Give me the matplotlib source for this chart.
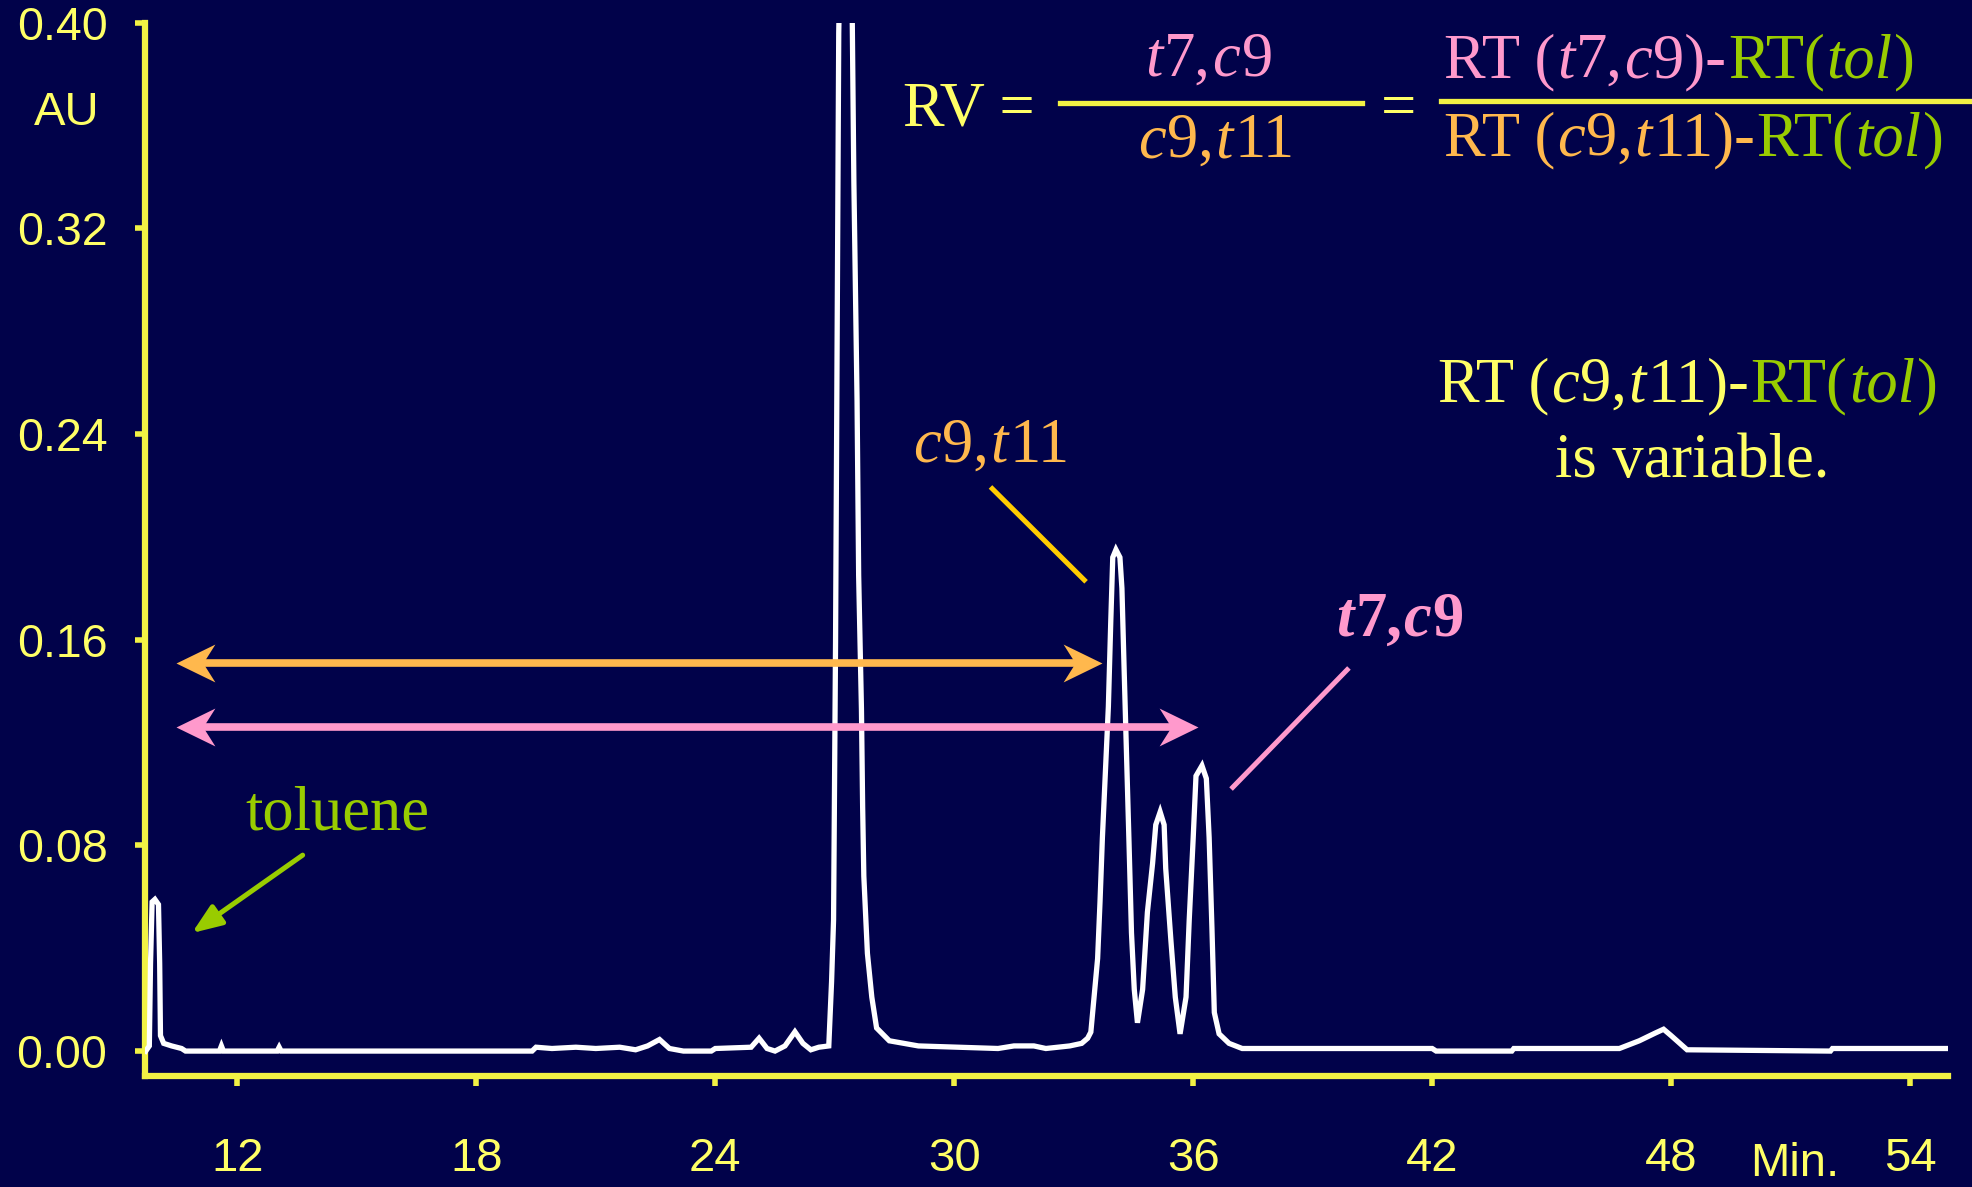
import matplotlib
matplotlib.use('Agg')
import matplotlib.pyplot as plt
from matplotlib.path import Path
from matplotlib import font_manager

# chromatogram trace (time in min, absorbance in AU)
time_min = [9.70, 9.79, 9.82, 9.86, 9.93, 10.02, 10.05, 10.07, 10.15, 10.35, 10.60, 10.70,
            11.55, 11.60, 11.65, 13.00, 13.05, 13.10, 19.40, 19.50, 19.90, 20.50, 21.00,
            21.60, 22.00, 22.30, 22.60, 22.85, 23.20, 23.90, 24.00, 24.90, 25.10, 25.30,
            25.50, 25.75, 26.00, 26.20, 26.40, 26.60, 26.85,
            26.92, 26.97, 27.02, 27.10, 27.27, 27.44, 27.48, 27.56, 27.60, 27.67, 27.70,
            27.73, 27.82, 27.93, 28.05, 28.37, 29.10,
            31.10, 31.50, 32.00, 32.30, 32.90, 33.20, 33.35,
            33.43, 33.60, 33.66, 33.72, 33.87, 33.93, 33.98, 34.06, 34.16, 34.21, 34.27,
            34.39, 34.45, 34.52, 34.60, 34.73, 34.85, 34.98, 35.06, 35.17, 35.27, 35.31,
            35.44, 35.55, 35.67, 35.82, 35.90, 36.00, 36.07, 36.22, 36.33, 36.40, 36.47,
            36.53, 36.65, 36.90, 37.23,
            42.00, 42.10, 44.00, 44.05, 46.70, 47.20, 47.60, 47.81, 48.00, 48.40, 52.00,
            52.05, 54.92]
absorb = [0.000, 0.002, 0.034, 0.058, 0.059, 0.057, 0.034, 0.006, 0.003, 0.002, 0.001, 0.000,
          0.000, 0.002, 0.000, 0.000, 0.0015, 0.000, 0.000, 0.0015, 0.001, 0.0015, 0.001,
          0.0015, 0.0005, 0.002, 0.0045, 0.001, 0.000, 0.000, 0.001, 0.0015, 0.005, 0.001,
          0.000, 0.002, 0.0075, 0.003, 0.0005, 0.0015, 0.002,
          0.027, 0.051, 0.159, 0.396, 0.550, 0.400, 0.338, 0.253, 0.185, 0.133, 0.095,
          0.068, 0.038, 0.021, 0.009, 0.004, 0.002,
          0.001, 0.002, 0.002, 0.001, 0.002, 0.003, 0.005,
          0.0074, 0.036, 0.058, 0.083, 0.134, 0.167, 0.192, 0.195, 0.192, 0.180, 0.146,
          0.080, 0.046, 0.024, 0.011, 0.024, 0.054, 0.073, 0.088, 0.093, 0.088, 0.071,
          0.043, 0.021, 0.0067, 0.021, 0.051, 0.083, 0.107, 0.111, 0.106, 0.083, 0.048,
          0.015, 0.0067, 0.003, 0.001,
          0.001, 0.000, 0.000, 0.001, 0.001, 0.004, 0.007, 0.0085, 0.006, 0.0005, 0.000,
          0.001, 0.001]

x_ticks = [12, 18, 24, 30, 36, 42, 48, 54]
y_ticks = [0.00, 0.08, 0.16, 0.24, 0.32, 0.40]

# annotation anchors (data coords)
rt_tol = 10.45
rt_c9t11 = 33.72
rt_t7c9 = 36.12
arrow_y_c9t11 = 0.151
arrow_y_t7c9 = 0.126

navy = '#01024A'
yellow = '#FFFF66'
axis_yellow = '#F2F244'
pink = '#FF99CC'
orange = '#FFB84D'
gold = '#FFCC00'
green = '#99CC00'

names = {f.name for f in font_manager.fontManager.ttflist}
narrow = 'Liberation Sans Narrow' if 'Liberation Sans Narrow' in names else 'Liberation Sans'

fig = plt.figure(figsize=(19.72, 11.87), dpi=100, facecolor=navy)
ax = fig.add_axes([0.0735, 0.0935, 0.9143, 0.8875])
ax.set_facecolor(navy)

ax.plot(time_min, absorb, color='white', lw=3.8, solid_joinstyle='miter', zorder=3)

ax.set_xlim(9.68, 54.95)
ax.set_ylim(-0.0097, 0.40)
for s in ['top', 'right']:
    ax.spines[s].set_visible(False)
for s in ['left', 'bottom']:
    ax.spines[s].set_color(axis_yellow)
    ax.spines[s].set_linewidth(4.5)

ax.set_xticks(x_ticks)
ax.set_xticklabels([str(v) for v in x_ticks], family=narrow, fontsize=34, color=yellow)
ax.set_yticks(y_ticks)
ax.set_yticklabels(['%.2f' % v for v in y_ticks], family='Liberation Sans', fontsize=33.5, color=yellow)
ax.tick_params(axis='x', direction='out', length=7, width=4, color=axis_yellow, pad=37)
ax.tick_params(axis='y', direction='out', length=7, width=4, color=axis_yellow, pad=20)

# double headed arrows with notched heads
head_l = Path([(0, 0), (39, 19), (27, 0), (39, -19), (0, 0)],
              [Path.MOVETO, Path.LINETO, Path.LINETO, Path.LINETO, Path.CLOSEPOLY])
head_r = Path([(0, 0), (-39, 19), (-27, 0), (-39, -19), (0, 0)],
              [Path.MOVETO, Path.LINETO, Path.LINETO, Path.LINETO, Path.CLOSEPOLY])
for x_end, yv, col in [(rt_c9t11, arrow_y_c9t11, orange), (rt_t7c9, arrow_y_t7c9, pink)]:
    ax.plot([rt_tol + 0.4, x_end - 0.4], [yv, yv], color=col, lw=5.5, solid_capstyle='butt', zorder=4)
    ax.plot([rt_tol], [yv], marker=head_l, ms=56, color=col, mew=0, zorder=5)
    ax.plot([x_end], [yv], marker=head_r, ms=56, color=col, mew=0, zorder=5)

# leader lines and toluene arrow
ax.plot([30.91, 33.31], [0.2194, 0.1825], color=gold, lw=3.6, solid_capstyle='butt', zorder=4)
ax.plot([36.95, 39.91], [0.1019, 0.149], color=pink, lw=3.6, solid_capstyle='butt', zorder=4)
ax.annotate('', xy=(10.86, 0.0459), xytext=(13.64, 0.0762),
            arrowprops=dict(arrowstyle='-|>,head_length=0.9,head_width=0.35',
                            mutation_scale=20, lw=3.6, color=green, shrinkA=0, shrinkB=0))

H = 1187
renderer = fig.canvas.get_renderer()


def rich(x, y_top, parts, size=45, ha='left'):
    # parts: (text, colour, style, weight); x/y in image pixels, y is the baseline
    arts = []
    for s, col, st, wt in parts:
        t = fig.text(0, H - y_top, s, color=col, fontstyle=st, fontweight=wt, fontsize=size,
                     family='Liberation Serif', va='baseline', ha='left', transform=None)
        arts.append(t)
    widths = [a.get_window_extent(renderer).width for a in arts]
    gap = 1.5
    total = sum(widths) + gap * (len(widths) - 1)
    x0 = x - total / 2 if ha == 'center' else x
    for a, w in zip(arts, widths):
        a.set_x(x0)
        x0 += w + gap


N, I = 'normal', 'italic'
rich(903, 126, [('RV =', yellow, N, N)])
rich(1209, 76, [('t', pink, I, N), ('7,', pink, N, N), ('c', pink, I, N), ('9', pink, N, N)], ha='center')
rich(1216, 157, [('c', orange, I, N), ('9,', orange, N, N), ('t', orange, I, N), ('11', orange, N, N)], ha='center')
rich(1381, 126, [('=', yellow, N, N)])
fig.add_artist(plt.Line2D([1060, 1362], [H - 103, H - 103], color=axis_yellow, lw=3.8, transform=None))
fig.add_artist(plt.Line2D([1441, 1970], [H - 101, H - 101], color=axis_yellow, lw=3.8, transform=None))
rich(1444, 77, [('RT (', pink, N, N), ('t', pink, I, N), ('7,', pink, N, N), ('c', pink, I, N),
                ('9)-', pink, N, N), ('RT(', green, N, N), ('tol', green, I, N), (')', green, N, N)])
rich(1444, 155, [('RT (', orange, N, N), ('c', orange, I, N), ('9,', orange, N, N), ('t', orange, I, N),
                 ('11)-', orange, N, N), ('RT(', green, N, N), ('tol', green, I, N), (')', green, N, N)])

rich(1438, 401, [('RT (', yellow, N, N), ('c', yellow, I, N), ('9,', yellow, N, N), ('t', yellow, I, N),
                 ('11)-', yellow, N, N), ('RT(', green, N, N), ('tol', green, I, N), (')', green, N, N)])
rich(1692, 477, [('is variable.', yellow, N, N)], ha='center')

rich(991, 462, [('c', orange, I, N), ('9,', orange, N, N), ('t', orange, I, N), ('11', orange, N, N)], ha='center')
rich(1400, 636, [('t', pink, I, 'bold'), ('7,', pink, N, 'bold'), ('c', pink, I, 'bold'), ('9', pink, N, 'bold')], ha='center')
rich(337, 830, [('toluene', green, N, N)], ha='center')

fig.text(67, H - 113, 'AU', color=yellow, fontsize=34, family='Liberation Sans',
         ha='center', va='center', transform=None)
fig.text(1750, H - 1176, 'Min.', color=yellow, fontsize=34, family=narrow,
         ha='left', va='baseline', transform=None)

fig.savefig('out.png', dpi=100, facecolor=navy)
